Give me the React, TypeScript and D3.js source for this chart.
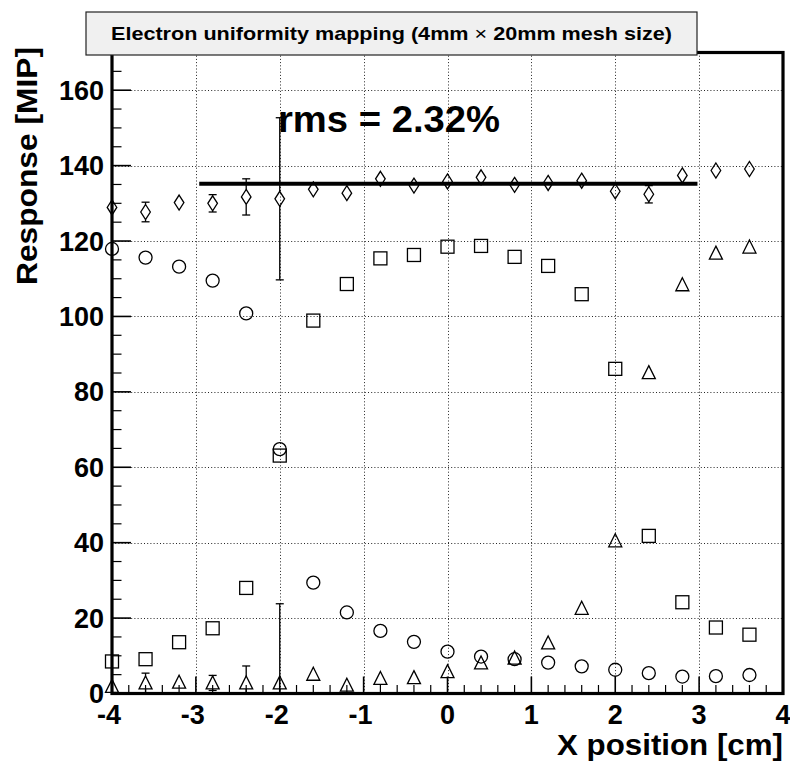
import React from "react";
import * as d3 from "d3";

const xPositions = [-4, -3.6, -3.2, -2.8, -2.4, -2.0, -1.6, -1.2, -0.8, -0.4, 0, 0.4, 0.8, 1.2, 1.6, 2.0, 2.4, 2.8, 3.2, 3.6];

const diamondValues = [128.9, 127.7, 130.2, 130.0, 131.7, 131.2, 133.7, 132.7, 136.5, 134.7, 135.8, 136.9, 134.9, 135.4, 136.0, 133.2, 132.4, 137.4, 138.7, 139.1];
const diamondErrors = [0.6, 2.6, 0.6, 2.3, 4.8, 21.5, 0.6, 0.6, 0.6, 0.6, 0.6, 0.6, 0.6, 0.6, 0.6, 1.7, 2.3, 0.6, 0.6, 1.9];

const circleValues = [117.9, 115.6, 113.2, 109.5, 100.8, 64.8, 29.4, 21.5, 16.6, 13.7, 11.1, 9.8, 9.1, 8.2, 7.2, 6.3, 5.4, 4.5, 4.6, 4.9];
const circleErrors = [0.5, 0.5, 0.5, 0.5, 0.5, 1.0, 0.5, 0.5, 0.5, 0.5, 0.5, 0.5, 0.5, 0.5, 0.5, 0.5, 0.5, 0.5, 0.5, 0.5];

const squareValues = [8.5, 9.1, 13.6, 17.3, 28.0, 63.1, 98.9, 108.6, 115.4, 116.3, 118.5, 118.7, 115.8, 113.4, 105.9, 86.1, 41.8, 24.2, 17.5, 15.6];
const squareErrors = [0.5, 0.5, 0.5, 0.5, 0.5, 1.6, 0.5, 0.5, 0.5, 0.5, 0.5, 0.5, 0.5, 0.5, 0.5, 0.5, 1.0, 0.5, 0.5, 0.5];

const triangleValues = [1.9, 2.8, 3.0, 2.8, 2.8, 2.8, 5.1, 2.2, 4.0, 4.2, 5.8, 8.1, 9.4, 13.4, 22.6, 40.5, 85.1, 108.4, 116.8, 118.4];
const triangleErrors = [0.5, 2.6, 0.5, 2.0, 4.5, 21.0, 0.5, 0.5, 0.5, 0.5, 0.5, 0.5, 0.5, 0.5, 0.5, 0.5, 1.5, 0.5, 0.5, 0.5];

const fitLevel = 135.2;
const fitRange = [-2.96, 2.98];

const xMajorTicks = [-4, -3, -2, -1, 0, 1, 2, 3, 4];
const yMajorTicks = [0, 20, 40, 60, 80, 100, 120, 140, 160];

const titleText = "Electron uniformity mapping (4mm";
const titleText2 = "20mm mesh size)";
const rmsText = "rms = 2.32%";
const xTitle = "X position [cm]";
const yTitle = "Response [MIP]";

const FONT = "'Liberation Sans', Arial, Helvetica, sans-serif";

type MarkerKind = "circle" | "square" | "triangle" | "diamond";

const markerHalf: Record<MarkerKind, number> = { circle: 6.5, square: 6.5, triangle: 6, diamond: 7.5 };

function Marker({ kind, cx, cy }: { kind: MarkerKind; cx: number; cy: number }) {
  const st = { fill: "none", stroke: "#000", strokeWidth: 1.3 };
  if (kind === "circle") return <circle cx={cx} cy={cy} r={6.5} {...st} />;
  if (kind === "square") return <rect x={cx - 6.5} y={cy - 6.5} width={13} height={13} {...st} />;
  if (kind === "triangle")
    return <path d={`M${cx},${cy - 7}L${cx + 6.5},${cy + 6}L${cx - 6.5},${cy + 6}Z`} {...st} />;
  return <path d={`M${cx},${cy - 7.5}L${cx + 4.8},${cy}L${cx},${cy + 7.5}L${cx - 4.8},${cy}Z`} {...st} />;
}

export default function App() {
  const W = 790;
  const H = 767;
  const left = 112, right = 783, top = 52.5, bottom = 693.5;
  const x = d3.scaleLinear().domain([-4, 4]).range([left, right]);
  const y = d3.scaleLinear().domain([0, 170]).range([bottom, top]);

  const xMinor = d3.range(-4, 4.0001, 0.2).map((v) => Math.round(v * 10) / 10);
  const yMinor = d3.range(0, 170.001, 5);

  const series: { kind: MarkerKind; values: number[]; errors: number[] }[] = [
    { kind: "circle", values: circleValues, errors: circleErrors },
    { kind: "square", values: squareValues, errors: squareErrors },
    { kind: "triangle", values: triangleValues, errors: triangleErrors },
    { kind: "diamond", values: diamondValues, errors: diamondErrors },
  ];

  const clipY = (v: number) => Math.max(top, Math.min(bottom, v));

  return (
    <div style={{ position: "absolute", left: 0, top: 0 }}>
      <svg width={W} height={H} style={{ display: "block", background: "#fff" }}>
        <rect x={0} y={0} width={W} height={H} fill="#fff" />
        {/* grid */}
        <g stroke="#000" strokeWidth={1} strokeDasharray="1,2.2" opacity={0.85}>
          {xMajorTicks.slice(1, -1).map((t) => (
            <line key={"gx" + t} x1={Math.round(x(t)) + 0.5} x2={Math.round(x(t)) + 0.5} y1={top} y2={bottom} />
          ))}
          {yMajorTicks.slice(1).map((t) => (
            <line key={"gy" + t} x1={left} x2={right} y1={Math.round(y(t)) + 0.5} y2={Math.round(y(t)) + 0.5} />
          ))}
        </g>
        {/* ticks */}
        <g stroke="#000" strokeWidth={1.2}>
          {xMinor.map((t) => {
            const major = Math.abs(t - Math.round(t)) < 1e-6;
            return (
              <line key={"tx" + t} x1={x(t)} x2={x(t)} y1={bottom} y2={bottom - (major ? 17 : 8.5)} strokeWidth={major ? 1.6 : 1.2} />
            );
          })}
          {yMinor.map((t) => {
            const major = t % 20 === 0;
            return (
              <line key={"ty" + t} x1={left} x2={left + (major ? 19 : 9.5)} y1={y(t)} y2={y(t)} strokeWidth={major ? 1.6 : 1.2} />
            );
          })}
        </g>
        {/* data */}
        <g>
          {series.map((s) =>
            s.values.map((v, i) => {
              const cx = x(xPositions[i]);
              const cy = y(v);
              const h = markerHalf[s.kind];
              const yt = clipY(y(v + s.errors[i]));
              const yb = clipY(y(v - s.errors[i]));
              return (
                <g key={s.kind + i}>
                  {cy - yt > h && (
                    <g stroke="#000" strokeWidth={1.3}>
                      <line x1={cx} x2={cx} y1={yt} y2={cy - h} />
                      <line x1={cx - 4} x2={cx + 4} y1={yt} y2={yt} />
                    </g>
                  )}
                  {yb - cy > h && (
                    <g stroke="#000" strokeWidth={1.3}>
                      <line x1={cx} x2={cx} y1={cy + h} y2={yb} />
                      {yb < bottom - 0.5 && <line x1={cx - 4} x2={cx + 4} y1={yb} y2={yb} />}
                    </g>
                  )}
                  <Marker kind={s.kind} cx={cx} cy={cy} />
                </g>
              );
            })
          )}
        </g>
        {/* fit line */}
        <line x1={x(fitRange[0])} x2={x(fitRange[1])} y1={y(fitLevel)} y2={y(fitLevel)} stroke="#000" strokeWidth={4} />
        {/* frame */}
        <rect x={left} y={top} width={right - left} height={bottom - top} fill="none" stroke="#000" strokeWidth={3.2} />
        {/* tick labels */}
        <g fontFamily={FONT} fontWeight="bold" fontSize={27} fill="#000">
          {yMajorTicks.map((t) => (
            <text key={"ly" + t} x={104} y={y(t) + 9.5} textAnchor="end">
              {t}
            </text>
          ))}
          {xMajorTicks.map((t) => (
            <text key={"lx" + t} x={x(t) + (t < 0 ? -3 : 0)} y={724} textAnchor="middle">
              {t < 0 ? "-" + Math.abs(t) : String(t)}
            </text>
          ))}
        </g>
        {/* axis titles */}
        <text x={783} y={755} textAnchor="end" fontFamily={FONT} fontWeight="bold" fontSize={30} textLength={226} lengthAdjust="spacingAndGlyphs">
          {xTitle}
        </text>
        <text
          transform="translate(37,285) rotate(-90)"
          x={0}
          y={0}
          fontFamily={FONT}
          fontWeight="bold"
          fontSize={30}
          textLength={238}
          lengthAdjust="spacingAndGlyphs"
        >
          {yTitle}
        </text>
        {/* rms */}
        <text x={278} y={132} fontFamily={FONT} fontWeight="bold" fontSize={37} textLength={222} lengthAdjust="spacingAndGlyphs">
          {rmsText}
        </text>
        {/* title box */}
        <rect x={86} y={12} width={611} height={43} fill="#f0f0f0" stroke="#222" strokeWidth={1.2} />
        <text x={111} y={40} fontFamily={FONT} fontWeight="bold" fontSize={19} textLength={561} lengthAdjust="spacingAndGlyphs">
          {titleText}
          <tspan fontWeight="normal">{" \u00d7 "}</tspan>
          {titleText2}
        </text>
      </svg>
    </div>
  );
}
